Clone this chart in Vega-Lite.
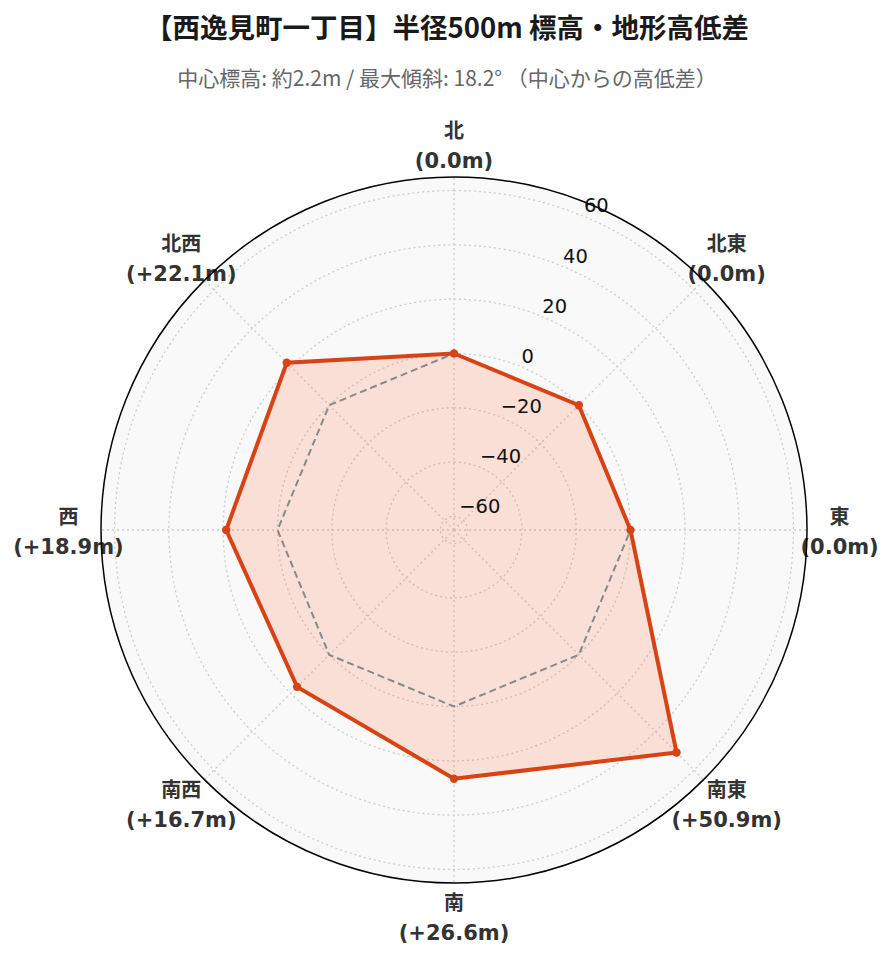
{
  "$schema": "https://vega.github.io/schema/vega-lite/v6.json",
  "width": 706,
  "height": 706,
  "autosize": {"type": "none"},
  "padding": {"left": 101, "top": 177, "right": 84, "bottom": 79},
  "background": "white",
  "config": {"view": {"stroke": null}},
  "title": {
    "text": "【西逸見町一丁目】半径500m 標高・地形高低差",
    "subtitle": "中心標高: 約2.2m / 最大傾斜: 18.2° （中心からの高低差）",
    "font": "Noto Sans CJK JP",
    "fontSize": 27.5,
    "fontWeight": "bold",
    "color": "#1a1a1a",
    "subtitleFont": "Noto Sans CJK JP",
    "subtitleFontSize": 21,
    "subtitleColor": "#666666",
    "anchor": "middle",
    "offset": 32,
    "subtitlePadding": 26,
    "dx": -7
  },
  "datasets": {
    "dirs": [
      {"dir": "北", "angle": 0, "diff": 0.0, "label": "(0.0m)"},
      {"dir": "北東", "angle": 45, "diff": 0.0, "label": "(0.0m)"},
      {"dir": "東", "angle": 90, "diff": 0.0, "label": "(0.0m)"},
      {"dir": "南東", "angle": 135, "diff": 50.9, "label": "(+50.9m)"},
      {"dir": "南", "angle": 180, "diff": 26.6, "label": "(+26.6m)"},
      {"dir": "南西", "angle": 225, "diff": 16.7, "label": "(+16.7m)"},
      {"dir": "西", "angle": 270, "diff": 18.9, "label": "(+18.9m)"},
      {"dir": "北西", "angle": 315, "diff": 22.1, "label": "(+22.1m)"}
    ],
    "rings": [
      {"v": -60}, {"v": -40}, {"v": -20}, {"v": 0}, {"v": 20}, {"v": 40}, {"v": 60}
    ],
    "outer": [{"v": 65}]
  },
  "layer": [
    {
      "data": {"name": "outer"},
      "mark": {"type": "arc", "theta": 0, "theta2": 6.2832, "fill": "#f9f9f9", "stroke": null},
      "encoding": {
        "radius": {"field": "v", "type": "quantitative", "stack": null, "scale": {"type": "linear", "domain": [-65, 65], "range": [0, 353], "zero": false}},
        "radius2": {"datum": -65}
      }
    },
    {
      "data": {"name": "rings"},
      "mark": {"type": "arc", "theta": 0, "theta2": 6.2832, "filled": false, "stroke": "#cccccc", "strokeWidth": 1.3, "strokeDash": [2, 3]},
      "encoding": {
        "radius": {"field": "v", "type": "quantitative", "stack": null},
        "radius2": {"datum": -65}
      }
    },
    {
      "data": {"name": "dirs"},
      "transform": [
        {"calculate": "datum.angle * PI / 180", "as": "a"},
        {"calculate": "(datum.diff + 65) * sin(datum.a)", "as": "x"},
        {"calculate": "(datum.diff + 65) * cos(datum.a)", "as": "y"},
        {"calculate": "65 * sin(datum.a)", "as": "bx"},
        {"calculate": "65 * cos(datum.a)", "as": "by"},
        {"calculate": "130 * sin(datum.a)", "as": "gx"},
        {"calculate": "130 * cos(datum.a)", "as": "gy"},
        {"calculate": "0", "as": "cx"}
      ],
      "layer": [
        {
          "mark": {"type": "rule", "stroke": "#cccccc", "strokeWidth": 1.3, "strokeDash": [2, 3]},
          "encoding": {
            "x": {"field": "cx", "type": "quantitative", "scale": {"domain": [-130, 130], "nice": false, "zero": false}, "axis": null},
            "y": {"field": "cx", "type": "quantitative", "scale": {"domain": [-130, 130], "nice": false, "zero": false}, "axis": null},
            "x2": {"field": "gx"},
            "y2": {"field": "gy"}
          }
        },
        {
          "mark": {"type": "line", "interpolate": "linear-closed", "fill": "#ff5722", "fillOpacity": 0.16, "stroke": null, "strokeWidth": 0},
          "encoding": {
            "x": {"field": "x", "type": "quantitative"},
            "y": {"field": "y", "type": "quantitative"},
            "order": {"field": "angle", "type": "quantitative"}
          }
        },
        {
          "mark": {"type": "line", "interpolate": "linear-closed", "stroke": "#888888", "strokeWidth": 2, "strokeDash": [7, 4]},
          "encoding": {
            "x": {"field": "bx", "type": "quantitative"},
            "y": {"field": "by", "type": "quantitative"},
            "order": {"field": "angle", "type": "quantitative"}
          }
        },
        {
          "mark": {"type": "line", "interpolate": "linear-closed", "stroke": "#d84315", "strokeWidth": 4, "strokeJoin": "miter"},
          "encoding": {
            "x": {"field": "x", "type": "quantitative"},
            "y": {"field": "y", "type": "quantitative"},
            "order": {"field": "angle", "type": "quantitative"}
          }
        },
        {
          "mark": {"type": "point", "filled": true, "color": "#d84315", "opacity": 1, "size": 70},
          "encoding": {
            "x": {"field": "x", "type": "quantitative"},
            "y": {"field": "y", "type": "quantitative"}
          }
        }
      ]
    },
    {
      "data": {"name": "rings"},
      "transform": [
        {"calculate": "(datum.v + 65) * sin(PI / 8)", "as": "tx"},
        {"calculate": "(datum.v + 65) * cos(PI / 8)", "as": "ty"}
      ],
      "mark": {"type": "text", "align": "left", "baseline": "bottom", "font": "DejaVu Sans", "fontSize": 19.5, "color": "#111111"},
      "encoding": {
        "x": {"field": "tx", "type": "quantitative"},
        "y": {"field": "ty", "type": "quantitative"},
        "text": {"field": "v", "type": "quantitative", "format": "d"}
      }
    },
    {
      "data": {"name": "dirs"},
      "transform": [
        {"calculate": "datum.angle * PI / 180", "as": "a"},
        {"calculate": "142 * sin(datum.a)", "as": "lx"},
        {"calculate": "142 * cos(datum.a)", "as": "ly"}
      ],
      "layer": [
        {
          "mark": {"type": "text", "align": "center", "baseline": "middle", "dy": -12, "font": "DejaVu Sans, Noto Sans CJK JP", "fontSize": 20, "fontWeight": "bold", "color": "#333333"},
          "encoding": {
            "x": {"field": "lx", "type": "quantitative"},
            "y": {"field": "ly", "type": "quantitative"},
            "text": {"field": "dir", "type": "nominal"}
          }
        },
        {
          "mark": {"type": "text", "align": "center", "baseline": "middle", "dy": 18, "font": "DejaVu Sans, Noto Sans CJK JP", "fontSize": 21, "fontWeight": "bold", "color": "#333333"},
          "encoding": {
            "x": {"field": "lx", "type": "quantitative"},
            "y": {"field": "ly", "type": "quantitative"},
            "text": {"field": "label", "type": "nominal"}
          }
        }
      ]
    },
    {
      "data": {"name": "outer"},
      "mark": {"type": "arc", "theta": 0, "theta2": 6.2832, "filled": false, "stroke": "#000000", "strokeWidth": 1.5},
      "encoding": {
        "radius": {"field": "v", "type": "quantitative", "stack": null},
        "radius2": {"datum": -65}
      }
    }
  ]
}
